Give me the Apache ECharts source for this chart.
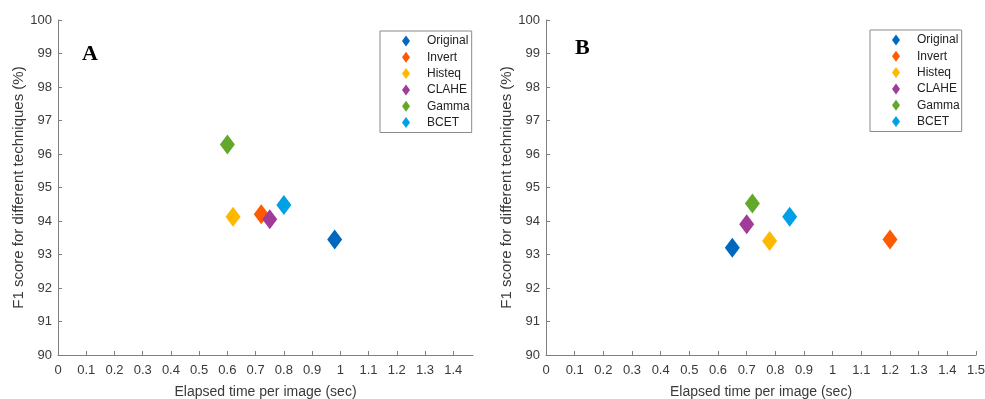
<!DOCTYPE html>
<html><head><meta charset="utf-8">
<script src="https://cdn.jsdelivr.net/npm/echarts@6/dist/echarts.min.js"></script>
<style>html,body{margin:0;padding:0;background:#fff}#c{width:985px;height:399px}</style>
</head><body><div id="c"></div>
<script>
const techniques = ['Original','Invert','Histeq','CLAHE','Gamma','BCET'];
const colors = ['#0068BE','#FF5A00','#FFB800','#A03C98','#63A82A','#00A0E6'];
// Panel A: [elapsed time, F1 score]
const timeA = [0.98, 0.72, 0.62, 0.75, 0.60, 0.80];
const f1A   = [93.45, 94.2, 94.13, 94.05, 96.28, 94.48];
// Panel B
const timeB = [0.65, 1.20, 0.78, 0.70, 0.72, 0.85];
const f1B   = [93.2, 93.45, 93.4, 93.9, 94.52, 94.13];
const xTicksA = [0,0.1,0.2,0.3,0.4,0.5,0.6,0.7,0.8,0.9,1,1.1,1.2,1.3,1.4];
const xTicksB = [0,0.1,0.2,0.3,0.4,0.5,0.6,0.7,0.8,0.9,1,1.1,1.2,1.3,1.4,1.5];
const yTicks = [90,91,92,93,94,95,96,97,98,99,100];

const font = 'Liberation Sans, Arial, sans-serif';
const txt = '#3a3a3a';
const axisColor = '#7f7f7f';

function xAxis(idx, max, ticks){
  return {
    gridIndex: idx, type:'value', min:0, max:max,
    name:'Elapsed time per image (sec)', nameLocation:'middle', nameGap:30,
    nameTextStyle:{color:txt, fontSize:14, fontFamily:font},
    axisLine:{show:true, lineStyle:{color:axisColor, width:1}},
    axisTick:{show:true, inside:true, length:4, customValues:ticks, lineStyle:{color:axisColor}},
    axisLabel:{color:txt, fontSize:13, fontFamily:font, margin:9, customValues:ticks},
    splitLine:{show:false}
  };
}
function yAxis(idx){
  return {
    gridIndex: idx, type:'value', min:90, max:100, interval:1,
    name:'F1 score for different techniques (%)', nameLocation:'middle', nameGap:21,
    nameTextStyle:{color:txt, fontSize:15, fontFamily:font},
    axisLine:{show:true, lineStyle:{color:axisColor, width:1}},
    axisTick:{show:true, inside:true, length:4, lineStyle:{color:axisColor}},
    axisLabel:{color:txt, fontSize:13, fontFamily:font, margin:6, customValues:yTicks},
    splitLine:{show:false}
  };
}
const series = [];
techniques.forEach((t,i)=>{
  series.push({name:t, type:'scatter', xAxisIndex:0, yAxisIndex:0, symbol:'diamond', symbolSize:[15,20],
    itemStyle:{color:colors[i], opacity:1}, data:[[timeA[i], f1A[i]]]});
});
techniques.forEach((t,i)=>{
  series.push({name:t, type:'scatter', xAxisIndex:1, yAxisIndex:1, symbol:'diamond', symbolSize:[15,20],
    itemStyle:{color:colors[i], opacity:1}, data:[[timeB[i], f1B[i]]]});
});
function legend(left, top){
  return {
    data: techniques, orient:'vertical', left:left, top:top, icon:'diamond',
    itemWidth:8, itemHeight:11, itemGap:4.3,
    borderColor:'#8a8a8a', borderWidth:1, padding:[4,2,4,22],
    textStyle:{color:'#222', fontSize:12, fontFamily:font, padding:[0,0,0,12]},
    selectedMode:false
  };
}
const chart = echarts.init(document.getElementById('c'), null, {renderer:'canvas'});
chart.setOption({
  animation:false,
  backgroundColor:'#fff',
  title:[
    {text:'A', left:77, top:38, textStyle:{fontFamily:'Liberation Serif, DejaVu Serif, serif', fontWeight:'bold', fontSize:22, color:'#000'}},
    {text:'B', left:570, top:32, textStyle:{fontFamily:'Liberation Serif, DejaVu Serif, serif', fontWeight:'bold', fontSize:22, color:'#000'}}
  ],
  grid:[
    {left:58, width:415, top:20, height:335, outerBoundsMode:'none', containLabel:false},
    {left:546, width:430, top:20, height:335, outerBoundsMode:'none', containLabel:false}
  ],
  xAxis:[xAxis(0,1.47,xTicksA), xAxis(1,1.5,xTicksB)],
  yAxis:[yAxis(0), yAxis(1)],
  legend:[legend(380,31), legend(870,30)],
  series: series
});
</script></body></html>
